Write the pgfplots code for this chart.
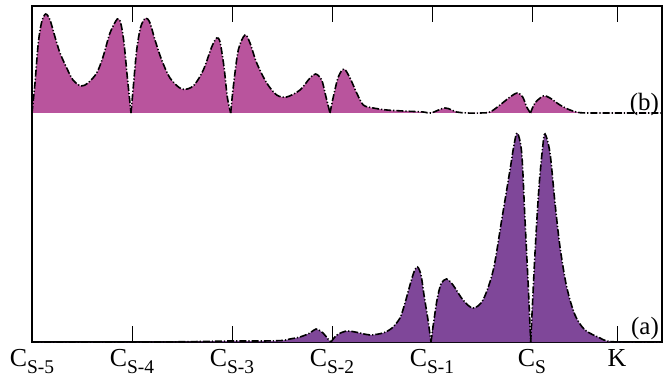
\documentclass[border=0pt]{standalone}
\usepackage{fontspec}
\setmainfont{Liberation Serif}
\usepackage{pgfplots}
\usepackage{pgfplotstable}
\pgfplotsset{compat=1.18}
\definecolor{pinkc}{RGB}{185,84,157}
\definecolor{purpc}{RGB}{127,71,153}
\newcommand{\lab}[1]{{\fontsize{26}{26}\selectfont C}\raisebox{-7bp}{\fontsize{19.5}{19.5}\selectfont #1}}
% top panel (b), baseline at 229
\pgfplotstableread{
x y
0.00 229
0.03 259
0.063 299
0.097 320
0.137 328
0.18 322
0.23 305
0.28 289
0.347 274
0.41 262
0.49 256
0.56 259
0.647 269
0.71 285
0.78 309
0.853 323
0.887 319
0.92 299
0.953 265
0.99 229
}\Tone
\pgfplotstableread{
x y
0.99 229
1.013 255
1.047 292
1.087 315
1.137 324
1.18 319
1.23 302
1.297 282
1.38 264
1.497 253
1.613 256
1.713 272
1.797 295
1.847 304
1.88 300
1.92 275
1.953 245
1.987 229
}\Ttwo
\pgfplotstableread{
x y
1.987 229
2.013 255
2.063 292
2.13 307
2.18 299
2.247 279
2.347 259
2.447 247
2.547 245
2.68 252
2.78 264
2.837 268
2.897 262
2.94 245
2.98 229
}\Tthree
\pgfplotstableread{
x y
2.98 229
3.013 245
3.063 265
3.12 273
3.18 264
3.247 249
3.313 237
3.413 234
3.547 232
3.713 231
3.913 230
3.99 229
4.13 234
4.247 230
4.347 229
4.48 229
4.58 230
4.68 237
4.78 245
4.853 249
4.907 245
4.947 235
4.985 229
}\Tfour
\pgfplotstableread{
x y
4.985 229
5.03 239
5.113 246
5.18 244
5.28 237
5.38 232
5.48 229.3
5.647 229
6.30 229
}\Tfive
% bottom panel (a), baseline at 0
\pgfplotstableread{
x y
0.00 0
1.18 0
1.68 0.5
1.98 1
2.3 1
2.5 1.5
2.58 3
2.68 5
2.78 9
2.84 13
2.91 9
2.96 3
2.99 0
}\Bone
\pgfplotstableread{
x y
2.99 0
3.05 7
3.15 11
3.28 9
3.38 7
3.51 9
3.6 14
3.68 24
3.73 39
3.78 57
3.82 70
3.855 75
3.89 67
3.92 47
3.96 22
3.99 0
}\Btwo
\pgfplotstableread{
x y
3.99 0
4.02 22
4.05 42
4.09 58
4.145 63
4.21 57
4.31 42
4.41 34
4.51 42
4.613 72
4.697 122
4.78 172
4.82 197
4.853 209
4.897 189
4.93 122
4.963 55
4.987 0
}\Bthree
\pgfplotstableread{
x y
4.987 0
5.03 89
5.07 155
5.107 195
5.13 208
5.18 189
5.23 139
5.28 95
5.347 55
5.43 27
5.53 12
5.68 4
5.75 1
5.88 0
6.30 0
}\Bfour
\begin{document}
\begin{tikzpicture}
\useasboundingbox (-32bp,-37bp) rectangle (639bp,342bp);
\begin{axis}[
  width=630bp, height=336bp, scale only axis,
  xmin=0, xmax=6.3, ymin=0, ymax=336,
  axis line style={line width=1.1pt},
  ytick=\empty,
  xtick={0,1,2,3,4,5,5.85},
  xticklabels={\lab{S-5},\lab{S-4},\lab{S-3},\lab{S-2},\lab{S-1},\lab{S},{\fontsize{26}{26}\selectfont K}},
  major tick length=16bp,
  tick style={line width=0.8pt, black},
  xticklabel style={anchor=north, inner sep=0pt, yshift=-7bp},
  ln/.style={black, line width=1.6pt, dash pattern=on 7bp off 2bp on 1.2bp off 2bp, smooth},
  fb/.style={fill=pinkc, draw=none, smooth},
  fa/.style={fill=purpc, draw=none, smooth},
]
\addplot[fb] table {\Tone} -- cycle;
\addplot[fb] table {\Ttwo} -- cycle;
\addplot[fb] table {\Tthree} -- cycle;
\addplot[fb] table {\Tfour} -- cycle;
\addplot[fb] table {\Tfive} -- cycle;
\addplot[fa] table {\Bone} -- cycle;
\addplot[fa] table {\Btwo} -- cycle;
\addplot[fa] table {\Bthree} -- cycle;
\addplot[fa] table {\Bfour} -- cycle;
\addplot[ln] table {\Tone};
\addplot[ln] table {\Ttwo};
\addplot[ln] table {\Tthree};
\addplot[ln] table {\Tfour};
\addplot[ln] table {\Tfive};
\addplot[ln] table {\Bone};
\addplot[ln] table {\Btwo};
\addplot[ln] table {\Bthree};
\addplot[ln] table {\Bfour};
\node[anchor=base east, inner sep=0pt, font=\fontsize{25}{25}\selectfont] at (axis cs:6.27,8) {(a)};
\node[anchor=base east, inner sep=0pt, font=\fontsize{25}{25}\selectfont] at (axis cs:6.27,231) {(b)};
\end{axis}
\end{tikzpicture}
\end{document}
